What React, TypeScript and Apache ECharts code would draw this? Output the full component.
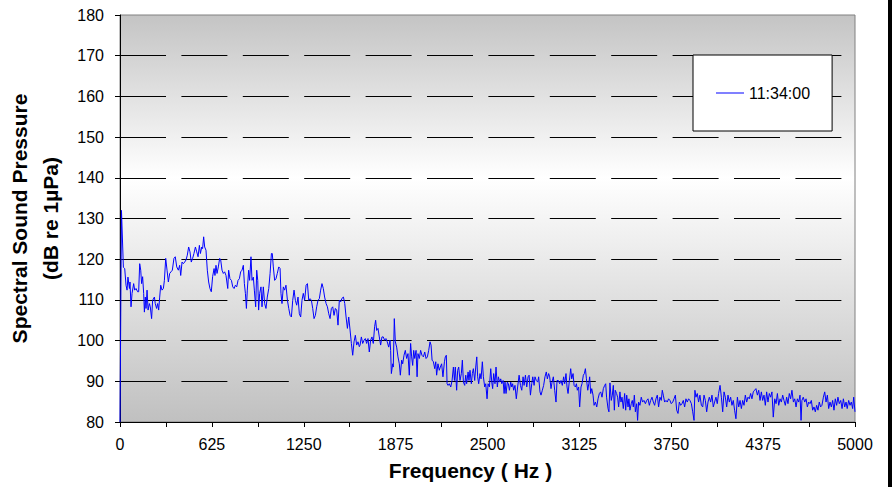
import React, { useEffect, useRef } from "react";
import * as echarts from "echarts";

// Spectrum readings: [frequency Hz, level dB re 1µPa]
const lowBand: [number, number][] = [
  [0, 80], [10, 132], [23, 118], [32, 117.7], [41, 113.6], [48, 112.4], [54, 115.6], [64, 112.8], [68, 114.4], [75, 108.3],
  [82, 111.6], [93, 114], [100, 112.4], [109, 112.8], [120, 112], [127, 112], [134, 118.9], [141, 117.3], [147, 114], [154, 115.7],
  [161, 111.6], [166, 107], [172, 110.7], [177, 107.9], [184, 112.4], [191, 107.5], [200, 109.1], [206, 108.3], [215, 105.4], [222, 109.9],
  [234, 110.7], [240, 109.1], [249, 107.9], [256, 109.1], [263, 107.5], [270, 110.7], [277, 113.6], [286, 112.4], [295, 112.8], [302, 114.8],
  [311, 120.2], [320, 117.3], [329, 114.4], [338, 116.5], [347, 116.9], [356, 117.3], [367, 120.2], [376, 120.6], [386, 118.1], [397, 117.3],
  [406, 118.5], [413, 116], [422, 119.3], [431, 118.9], [440, 119.3], [449, 119.8], [458, 121], [467, 123], [476, 121.8], [485, 119.3],
  [494, 120.2], [503, 121.4], [513, 123], [522, 121.8], [531, 120.6], [540, 123.4], [547, 121.4], [556, 123], [562, 122.6], [569, 125.5],
  [576, 123], [585, 122.2], [594, 117.3], [603, 114.4], [612, 112.8], [621, 112], [630, 115.7], [640, 117.7], [646, 116], [653, 118.5],
  [660, 116.5], [669, 118.1], [678, 120.2], [685, 119.8], [694, 117.3], [703, 116.5], [712, 116.9], [721, 116], [733, 112.8], [739, 117.3],
  [748, 115.2], [758, 114.8], [767, 113.2], [776, 112.8], [785, 113.6], [794, 113.2], [803, 114.8], [812, 115.2], [821, 116.9], [830, 117.3],
  [839, 118.5], [846, 114], [853, 111.6], [860, 107.9], [866, 112.4], [875, 117.3], [882, 114.8], [891, 120.6], [898, 114.8], [907, 115.6],
  [914, 112.4], [923, 108.3], [930, 117.3], [937, 114.8], [943, 107.5], [950, 111.6], [959, 113.2], [966, 108.3], [975, 113.2], [984, 109.1],
  [993, 107.9], [1002, 110.7], [1012, 112.8], [1021, 116.5], [1030, 121.4], [1036, 121.4], [1043, 118.1], [1052, 114.8], [1061, 115.2], [1070, 116.5],
  [1080, 118.1], [1089, 117.7], [1095, 111.6], [1102, 109.1], [1111, 113.2], [1120, 112.4], [1129, 113.6], [1139, 109.9], [1148, 107.9], [1157, 106.2],
  [1166, 105.8], [1175, 109.9], [1184, 112.4], [1193, 109.9], [1202, 108.7], [1211, 110.7], [1220, 106.6], [1229, 105.8], [1238, 109.9], [1247, 111.6],
  [1256, 109.9], [1266, 113.6], [1275, 114], [1284, 109.9], [1293, 110.3], [1302, 109.9], [1311, 107.9], [1320, 105.4], [1329, 106.2], [1338, 108.3],
  [1347, 109.9], [1356, 110.3], [1365, 112.4], [1374, 114], [1383, 112.8], [1392, 110.7], [1402, 109.1], [1411, 108.3], [1420, 106.6], [1429, 105.4],
  [1438, 107.9], [1447, 108.3], [1456, 106.2], [1465, 107.9], [1474, 107.5], [1483, 103.8], [1492, 109.9], [1501, 109.5], [1510, 110.4], [1520, 110.7],
  [1529, 109.1], [1538, 105.8], [1547, 103], [1556, 105.8], [1565, 102.6], [1574, 99.3], [1583, 96.4], [1592, 99.7], [1601, 101.3], [1610, 98.9],
  [1619, 99.7], [1628, 98.5],
];

const midBand: [number, number][] = [
  [1633, 98.9], [1642, 100.9], [1651, 99.3], [1660, 100.1], [1669, 100.5], [1678, 99.3], [1687, 100.5], [1696, 97.2], [1705, 100.1], [1714, 100.9],
  [1723, 99.3], [1732, 103.4], [1739, 105], [1746, 102.5], [1755, 103], [1764, 100.9], [1773, 98.9], [1782, 100.9], [1791, 100.9], [1800, 100.1],
  [1809, 100.5], [1818, 99.7], [1828, 98.4], [1837, 100.1], [1841, 97.6], [1846, 91.9], [1855, 94.3], [1859, 93.5], [1866, 105.4], [1873, 99.7],
  [1882, 98.4], [1891, 96], [1900, 94.3], [1907, 91.5], [1916, 95.2], [1923, 94.3], [1932, 96.4], [1941, 97.6], [1950, 95.6], [1959, 96.8],
  [1968, 91.5], [1977, 99.3], [1984, 96], [1991, 93.9], [1998, 97.6], [2005, 95.6], [2014, 97.6], [2021, 91.1], [2027, 96.8], [2036, 95.6],
  [2045, 97.6], [2054, 96.4], [2064, 96], [2073, 97.2], [2082, 95.6], [2091, 96], [2100, 97.6], [2109, 99.7], [2116, 98.9], [2123, 95.2],
  [2132, 94.8], [2141, 93.1], [2148, 94.8], [2154, 91.5], [2163, 94.3], [2172, 92.7], [2179, 93.5], [2188, 94.3], [2197, 91.1], [2207, 94.8],
  [2213, 96], [2220, 96.4], [2225, 89.4], [2232, 89], [2240, 89.4], [2250, 88.6], [2259, 90.2], [2268, 93.5], [2275, 90.2], [2281, 93.5],
  [2290, 87.8], [2297, 92.7], [2304, 93.5], [2313, 90.2], [2322, 91.9], [2329, 95.2], [2336, 89.8], [2345, 89], [2352, 91.5], [2358, 89.4],
  [2368, 92.3], [2374, 90.2], [2381, 92.7], [2390, 89.4], [2397, 91.9], [2404, 93.1], [2413, 90.2], [2420, 93.5], [2427, 96], [2433, 91.1],
  [2440, 89.4], [2449, 91.9], [2456, 90.6], [2465, 94.8], [2472, 91.1], [2481, 88.6], [2488, 89.4], [2497, 85.7], [2504, 89.4], [2513, 88.6],
  [2522, 93.1], [2529, 89.8], [2535, 88.2], [2542, 91.9], [2551, 89.4], [2558, 93.5], [2567, 88.6], [2574, 91.1], [2583, 89.8], [2590, 90.6],
  [2597, 89.4], [2606, 90.2], [2613, 87], [2619, 89.8], [2626, 87], [2635, 89.8], [2642, 89.4], [2649, 87.8], [2658, 89.8], [2665, 88.6],
  [2671, 89.4], [2678, 87.8], [2687, 89], [2696, 85.7], [2705, 88.6], [2715, 91.5], [2724, 89], [2733, 87.8], [2742, 91.1], [2749, 89],
  [2758, 91.5], [2767, 88.6], [2776, 91.1], [2783, 91.5], [2792, 86.6], [2801, 89.4], [2808, 91.1], [2817, 89], [2823, 91.1], [2832, 90.2],
  [2842, 89.8], [2848, 91.1], [2857, 87.4], [2864, 86.6], [2873, 87.8], [2882, 89], [2891, 91.1], [2900, 92.3], [2907, 90.6], [2916, 91.9],
  [2923, 91.1], [2932, 88.2], [2939, 89.8], [2948, 91.1], [2957, 87.8], [2966, 84.9], [2973, 90.2], [2982, 90.2], [2991, 89.4], [3000, 90.2],
  [3009, 89], [3018, 91.1], [3025, 89.4], [3034, 91.9], [3041, 88.6], [3048, 87], [3057, 90.2], [3066, 93.1], [3073, 90.6], [3082, 91.9],
  [3089, 89], [3098, 88.6], [3105, 89.4], [3111, 87.8], [3120, 88.6], [3127, 83.7], [3136, 88.6], [3143, 89.4], [3152, 91.5], [3159, 91.9],
  [3166, 93.1], [3173, 90.6], [3182, 87.8], [3189, 89.4], [3195, 91.1], [3202, 87], [3209, 88.2], [3218, 86.6], [3225, 84.1], [3234, 84.9],
  [3243, 83.7], [3252, 85.7], [3261, 87],
];

const highBand: [number, number][] = [
  [3270, 87.4], [3279, 86.1], [3288, 88.2], [3297, 89], [3304, 89.4], [3310, 86.1], [3320, 83.3], [3326, 82.5], [3333, 89.6], [3342, 85.3],
  [3349, 86.6], [3356, 89], [3363, 82.9], [3369, 87.8], [3378, 87], [3385, 86.1], [3392, 83.7], [3401, 87.4], [3408, 84.9], [3415, 86.1],
  [3424, 83.3], [3433, 87], [3440, 82.9], [3447, 86.6], [3456, 83.7], [3462, 85.7], [3469, 82.9], [3478, 84.5], [3485, 85.3], [3492, 83.7],
  [3499, 86.6], [3506, 82.5], [3515, 84.5], [3521, 80.4], [3528, 84.9], [3537, 84.1], [3546, 86.1], [3555, 84.9], [3564, 85.3], [3574, 84.5],
  [3583, 85.3], [3592, 85.7], [3601, 84.1], [3610, 85.3], [3619, 86.1], [3628, 84.9], [3637, 84.1], [3646, 85.7], [3655, 86.6], [3664, 83.7],
  [3673, 86.1], [3682, 85.3], [3689, 87.8], [3696, 86.6], [3705, 84.9], [3714, 85.3], [3723, 84.9], [3732, 85.7], [3741, 85.3], [3750, 84.5],
  [3760, 84.9], [3769, 85.7], [3778, 86.6], [3787, 82.9], [3796, 82.1], [3805, 84.9], [3814, 84.1], [3823, 84.5], [3832, 85.3], [3841, 83.7],
  [3850, 85.7], [3859, 84.9], [3868, 85.7], [3877, 85.3], [3887, 84.5], [3896, 82.5], [3905, 80.4], [3911, 87.8], [3918, 86.1], [3927, 87],
  [3936, 84.9], [3945, 86.6], [3955, 84.1], [3964, 83.7], [3973, 86.6], [3982, 85.3], [3991, 82.5], [4000, 84.9], [4009, 86.1], [4018, 84.9],
  [4027, 86.6], [4036, 83.7], [4045, 84.9], [4054, 86.1], [4063, 84.5], [4072, 87], [4082, 89], [4091, 86.1], [4100, 82.5], [4109, 87.4],
  [4118, 86.1], [4127, 83.7], [4136, 86.6], [4145, 84.9], [4154, 86.1], [4163, 84.1], [4172, 85.3], [4181, 82.9], [4190, 80.8], [4200, 86.1],
  [4209, 83.7], [4218, 85.3], [4227, 83.3], [4236, 85.3], [4245, 84.1], [4254, 86.6], [4263, 84.9], [4272, 86.1], [4281, 85.7], [4290, 87],
  [4299, 85.7], [4308, 87.4], [4317, 87.8], [4326, 88.2], [4336, 86.6], [4345, 87.8], [4354, 85.3], [4363, 87.4], [4372, 85.3], [4381, 86.6],
  [4390, 84.1], [4399, 87.4], [4408, 84.9], [4417, 87], [4426, 86.1], [4435, 87.4], [4444, 81.2], [4454, 85.7], [4463, 84.5], [4472, 87],
  [4481, 84.1], [4490, 85.7], [4499, 84.9], [4508, 86.6], [4517, 85.3], [4526, 84.1], [4535, 86.1], [4544, 84.5], [4553, 87], [4562, 85.7],
  [4571, 87.8], [4581, 84.9], [4590, 85.7], [4599, 83.7], [4608, 85.7], [4617, 84.9], [4626, 86.6], [4633, 80.4], [4639, 85.3], [4648, 86.1],
  [4658, 84.9], [4667, 85.7], [4676, 83.7], [4685, 84.9], [4694, 84.5], [4703, 85.3], [4712, 82.9], [4721, 83.7], [4730, 82.5], [4739, 84.1],
  [4748, 82.9], [4757, 84.9], [4766, 83.7], [4775, 84.1], [4785, 86.1], [4794, 87.4], [4803, 84.9], [4812, 86.6], [4821, 83.3], [4830, 84.9],
  [4839, 83.7], [4848, 85.3], [4857, 82.9], [4866, 85.7], [4875, 84.1], [4884, 86.1], [4893, 84.5], [4903, 85.3], [4912, 83.3], [4921, 85.7],
  [4930, 83.7], [4939, 84.9], [4947, 83.3], [4957, 85.3], [4966, 84.1], [4975, 84.9], [4984, 83.3], [4991, 86.1], [5000, 82.5],
];

const seriesName = "11:34:00";
const xLabelStep = 625;
const xTickStep = 312.5;
const yMin = 80;
const yMax = 180;
const yStep = 10;

const FONT = "'Liberation Sans', Arial, sans-serif";

export default function App() {
  const ref = useRef<HTMLDivElement>(null);

  useEffect(() => {
    if (!ref.current) return;
    const chart = echarts.init(ref.current, undefined, { renderer: "svg" });
    const data = [...lowBand, ...midBand, ...highBand];

    chart.setOption({
      animation: false,
      backgroundColor: "#ffffff",
      textStyle: { fontFamily: FONT },
      grid: {
        left: 120,
        top: 15,
        right: 37,
        bottom: 65,
        outerBoundsMode: "none",
        containLabel: false,
        show: true,
        borderColor: "#808080",
        borderWidth: 1,
        backgroundColor: new echarts.graphic.LinearGradient(0, 0, 0, 1, [
          { offset: 0, color: "#c4c4c4" },
          { offset: 0.4, color: "#ffffff" },
          { offset: 1, color: "#c0c0c0" },
        ]),
      },
      legend: {
        left: 693,
        top: 55,
        orient: "vertical",
        backgroundColor: "#ffffff",
        borderColor: "#000000",
        borderWidth: 1,
        borderRadius: 0,
        padding: [29, 22, 29, 23],
        icon: "rect",
        itemWidth: 28,
        itemHeight: 1,
        itemStyle: { color: "#0000ff" },
        textStyle: { fontSize: 16, color: "#000", fontFamily: FONT, lineHeight: 18 },
        data: [seriesName],
      },
      xAxis: {
        type: "value",
        min: 0,
        max: 5000,
        interval: xTickStep,
        name: "Frequency ( Hz )",
        nameLocation: "middle",
        nameGap: 38,
        nameTextStyle: {
          fontSize: 21,
          fontWeight: "bold",
          color: "#000",
          fontFamily: FONT,
          padding: [0, 34, 0, 0],
        },
        axisLine: { show: true, lineStyle: { color: "#000", width: 1 } },
        axisTick: { show: true, length: 5, lineStyle: { color: "#000" } },
        axisLabel: {
          fontSize: 16,
          color: "#000",
          margin: 14,
          fontFamily: FONT,
          formatter: (v: number) => (Math.abs(v % xLabelStep) < 1e-6 ? String(v) : ""),
        },
        splitLine: { show: false },
      },
      yAxis: {
        type: "value",
        min: yMin,
        max: yMax,
        interval: yStep,
        name: "Spectral Sound Pressure\n(dB re 1µPa)",
        nameLocation: "middle",
        nameGap: 50,
        nameTextStyle: { fontSize: 21, fontWeight: "bold", color: "#000", lineHeight: 31, fontFamily: FONT },
        axisLine: { show: true, lineStyle: { color: "#000", width: 1 } },
        axisTick: { show: true, length: 5, lineStyle: { color: "#000" } },
        axisLabel: { fontSize: 16, color: "#000", margin: 16, fontFamily: FONT },
        splitLine: {
          show: true,
          showMinLine: false,
          showMaxLine: false,
          lineStyle: { color: "#000", width: 1, type: [46, 15.4] },
        },
      },
      series: [
        {
          name: seriesName,
          type: "line",
          data,
          symbol: "none",
          showSymbol: false,
          lineStyle: { color: "#0000ff", width: 1 },
          itemStyle: { color: "#0000ff" },
          clip: true,
        },
      ],
      graphic: [
        { type: "rect", left: 888, top: 0, shape: { width: 4, height: 487 }, style: { fill: "#000" } },
      ],
    });

    return () => chart.dispose();
  }, []);

  return (
    <div
      ref={ref}
      style={{ position: "fixed", left: 0, top: 0, width: 892, height: 487 }}
    />
  );
}
